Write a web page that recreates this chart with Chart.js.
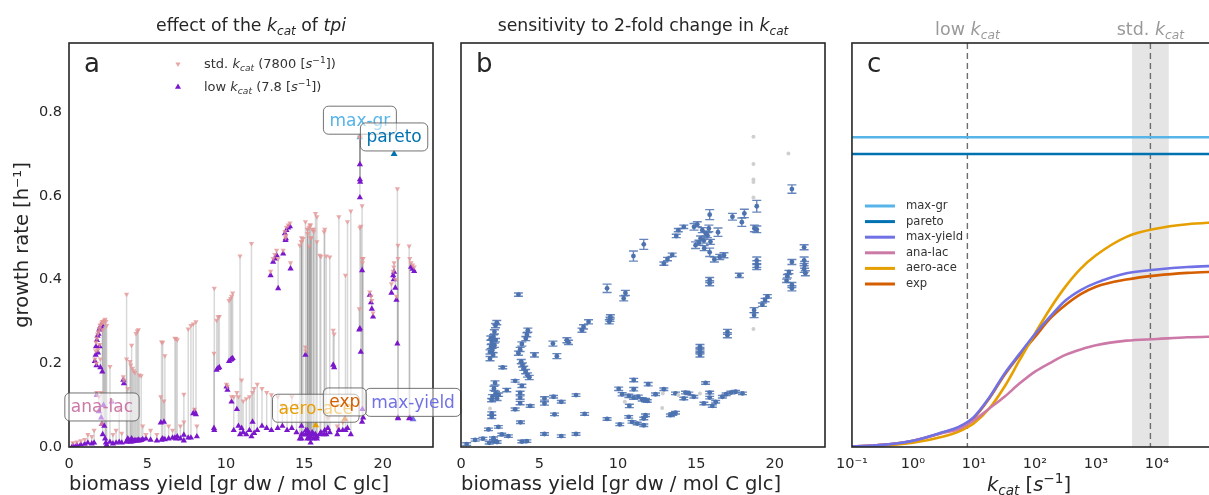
<!DOCTYPE html>
<html>
<head>
<meta charset="utf-8">
<script src="https://cdn.jsdelivr.net/npm/chart.js@4.4.1/dist/chart.umd.min.js"></script>
<style>
  html, body { margin: 0; padding: 0; background: #fff; width: 1209px; height: 495px; overflow: hidden; }
  canvas { position: absolute; top: 0; }
</style>
</head>
<body>
<canvas id="chartA" width="470" height="495" style="left:0"></canvas>
<canvas id="chartB" width="390" height="495" style="left:440px"></canvas>
<canvas id="chartC" width="403" height="495" style="left:827px"></canvas>
<script>
// --- panel a: [biomass yield, growth rate std kcat, growth rate low kcat]
const tpiPairs = [
  [0.25,0.010,0.004],[0.5,0.012,0.005],[0.75,0.015,0.006],[1.0,0.018,0.007],[1.2,0.03,0.01],[1.45,0.025,0.008],[1.6,0.04,0.01],
  [1.65,0.21,0.205],[1.7,0.23,0.22],[1.72,0.25,0.24],[1.78,0.26,0.255],[1.82,0.27,0.265],[1.88,0.275,0.27],[1.93,0.283,0.28],
  [1.98,0.29,0.285],[2.03,0.292,0.288],[2.08,0.296,0.292],[1.75,0.2,0.195],[1.85,0.232,0.225],[1.95,0.245,0.24],[2.0,0.21,0.19],
  [2.12,0.3,0.18],[2.2,0.3,0.1],[2.25,0.302,0.05],[2.3,0.305,0.02],[2.35,0.3,0.01],[2.15,0.28,0.03],[2.05,0.13,0.07],[1.9,0.12,0.085],
  [2.4,0.29,0.005],[1.76,0.13,0.124],[2.72,0.11,0.108],[2.61,0.192,0.012],[2.8,0.03,0.008],[3.0,0.04,0.01],[3.2,0.09,0.012],
  [3.36,0.033,0.01],[3.46,0.168,0.16],[3.5,0.16,0.152],
  [3.67,0.365,0.012],[3.67,0.21,0.014],[3.75,0.14,0.02],[3.89,0.204,0.015],[3.93,0.196,0.012],[3.99,0.243,0.02],[4.05,0.188,0.013],
  [4.12,0.182,0.014],[4.2,0.178,0.016],[4.27,0.271,0.015],[4.35,0.277,0.015],[4.42,0.28,0.017],[4.48,0.172,0.015],[4.6,0.17,0.016],
  [4.7,0.05,0.018],[4.9,0.03,0.02],[5.2,0.04,0.017],
  [5.6,0.03,0.015],[5.85,0.12,0.058],[5.9,0.251,0.017],[5.97,0.25,0.02],[6.05,0.11,0.06],[6.11,0.218,0.018],[6.35,0.05,0.02],
  [6.6,0.04,0.022],[6.75,0.26,0.022],[6.82,0.259,0.02],[6.9,0.256,0.025],[7.1,0.05,0.02],
  [7.32,0.126,0.029],[7.32,0.06,0.015],[7.6,0.282,0.022],[7.77,0.29,0.022],[7.92,0.294,0.08],[8.0,0.09,0.085],[8.09,0.299,0.078],[8.15,0.05,0.025],
  [9.24,0.224,0.045],[9.26,0.379,0.04],[9.41,0.303,0.184],[9.5,0.311,0.188],[9.58,0.312,0.19],[10.04,0.15,0.144],[10.1,0.145,0.136],
  [10.2,0.35,0.205],[10.3,0.355,0.208],[10.36,0.36,0.21],[10.43,0.368,0.212],[10.36,0.12,0.108],[10.5,0.12,0.04],
  [10.7,0.13,0.09],[10.8,0.12,0.05],[10.9,0.456,0.03],[11.0,0.16,0.045],[11.1,0.11,0.035],[11.3,0.115,0.03],[11.5,0.12,0.04],
  [11.63,0.486,0.025],[11.7,0.13,0.06],[11.8,0.14,0.033],[12.0,0.15,0.04],[12.3,0.14,0.05],[12.6,0.13,0.045],[12.9,0.125,0.04],[13.3,0.12,0.045],
  [12.85,0.42,0.41],[13.01,0.45,0.442],[13.12,0.46,0.45],[13.23,0.47,0.458],[13.33,0.45,0.379],[13.65,0.47,0.462],[13.76,0.515,0.51],
  [13.8,0.5,0.494],[13.82,0.505,0.498],[13.86,0.525,0.518],[13.97,0.53,0.524],[14.08,0.535,0.527],[14.12,0.44,0.426],
  [13.6,0.1,0.05],[13.9,0.09,0.04],[14.2,0.12,0.045],[14.5,0.1,0.035],
  [14.71,0.482,0.02],[14.82,0.49,0.05],[14.82,0.5,0.03],[14.82,0.49,0.02],[14.92,0.498,0.03],[15.07,0.538,0.03],[15.07,0.239,0.22],
  [15.1,0.23,0.04],[15.2,0.52,0.04],[15.2,0.51,0.03],[15.2,0.52,0.02],[15.25,0.1,0.035],[15.3,0.525,0.03],[15.3,0.48,0.025],
  [15.35,0.53,0.02],[15.4,0.53,0.025],[15.4,0.5,0.01],[15.45,0.5,0.03],[15.5,0.52,0.035],[15.6,0.515,0.02],[15.6,0.52,0.03],
  [15.71,0.558,0.03],[15.8,0.49,0.025],[15.8,0.55,0.02],[15.99,0.458,0.03],[16.05,0.455,0.035],[16.26,0.514,0.03],[16.3,0.52,0.04],
  [16.4,0.456,0.03],[16.62,0.454,0.035],[16.5,0.07,0.045],
  [16.84,0.279,0.196],[16.9,0.27,0.19],[17.1,0.05,0.03],[17.2,0.55,0.04],[17.45,0.06,0.04],[17.62,0.41,0.04],[17.75,0.538,0.045],[17.96,0.564,0.03],
  [18.54,0.74,0.675],[18.54,0.74,0.639],[18.56,0.74,0.633],[18.54,0.74,0.596],[18.68,0.576,0.422],[18.68,0.45,0.06],[18.54,0.524,0.283],[18.6,0.527,0.227],
  [18.75,0.45,0.07],[18.7,0.44,0.09],[18.5,0.33,0.28],[19.17,0.37,0.363],[19.25,0.36,0.345],[19.3,0.35,0.33],[19.38,0.32,0.311],
  [20.55,0.39,0.368],[20.66,0.42,0.41],[20.7,0.43,0.40],[20.72,0.44,0.418],[20.8,0.40,0.38],[20.87,0.36,0.351],[20.93,0.617,0.247],
  [20.97,0.482,0.068],[20.97,0.45,0.07],[21.68,0.48,0.068],[21.72,0.45,0.07],[21.8,0.44,0.43],[21.9,0.435,0.425],[22.0,0.43,0.42]
];

// reference strategies (low kcat)
const refLabels = ['max-gr', 'pareto', 'max-yield', 'ana-lac', 'aero-ace', 'exp'];
const refColors = ['#56B4E9', '#0072B2', '#7171e6', '#CC79A7', '#E69F00', '#D55E00'];
const refYield = [18.54, 20.72, 21.93, 2.1, 15.73, 17.58];
const refLowRate = [0.74, 0.70, 0.066, 0.055, 0.052, 0.067];

// --- panel b: [biomass yield, growth rate, error]
const sensPoints = [
  [21.09,0.616,0.01],[18.85,0.575,0.014],[18.7,0.522,0.008],[18.85,0.52,0.008],[18.06,0.558,0.01],[17.9,0.537,0.01],[17.3,0.55,0.008],
  [15.85,0.555,0.012],[16.38,0.513,0.01],
  [14.85,0.526,0.008],[15.06,0.532,0.006],[15.38,0.518,0.006],[15.6,0.51,0.006],[15.8,0.522,0.008],[15.27,0.498,0.006],[14.95,0.482,0.008],
  [15.48,0.493,0.006],[15.7,0.506,0.006],[15.16,0.488,0.006],[15.5,0.475,0.006],[15.9,0.49,0.006],
  [14.2,0.526,0.004],[13.85,0.518,0.004],[13.72,0.504,0.004],[11.65,0.484,0.012],[10.99,0.456,0.012],
  [13.46,0.459,0.004],[13.16,0.449,0.004],[12.93,0.438,0.004],
  [15.85,0.465,0.01],[16.15,0.448,0.006],[16.49,0.454,0.006],[16.76,0.458,0.006],[15.85,0.399,0.006],[15.85,0.391,0.006],[17.74,0.41,0.005],
  [18.85,0.446,0.008],[18.85,0.437,0.008],[18.85,0.43,0.006],
  [21.87,0.477,0.006],[21.87,0.446,0.008],[21.9,0.435,0.008],[21.87,0.425,0.008],[21.95,0.415,0.006],
  [21.09,0.442,0.006],[20.9,0.418,0.004],[20.8,0.408,0.004],[20.75,0.397,0.004],[21.09,0.387,0.006],[21.09,0.379,0.006],
  [9.31,0.379,0.01],[10.48,0.368,0.006],[10.37,0.355,0.006],[3.66,0.364,0.004],
  [19.53,0.36,0.004],[19.38,0.351,0.004],[19.21,0.34,0.004],[18.68,0.327,0.006],[18.68,0.315,0.006],
  [16.98,0.275,0.006],[16.98,0.267,0.006],[15.23,0.24,0.005],[15.23,0.233,0.005],[15.23,0.227,0.005],[15.23,0.22,0.005],
  [2.28,0.297,0.005],[2.2,0.29,0.005],[2.13,0.275,0.005],[2.07,0.263,0.005],[1.96,0.251,0.005],[1.92,0.24,0.005],[1.85,0.227,0.005],
  [1.85,0.211,0.005],[2.13,0.243,0.005],[1.99,0.231,0.005],[2.05,0.22,0.005],[1.9,0.26,0.005],[2.2,0.255,0.004],[2.66,0.19,0.003],
  [4.26,0.279,0.005],[4.2,0.268,0.005],[4.13,0.259,0.005],[3.88,0.246,0.005],[3.77,0.233,0.005],[3.66,0.224,0.005],[4.68,0.22,0.005],
  [3.84,0.204,0.005],[3.92,0.196,0.005],[4.0,0.188,0.005],[4.12,0.18,0.005],[4.24,0.172,0.005],[4.35,0.166,0.005],
  [5.86,0.247,0.006],[6.11,0.217,0.006],[6.75,0.255,0.006],[6.85,0.25,0.005],[7.81,0.287,0.005],[7.71,0.279,0.005],[8.13,0.299,0.005],
  [9.52,0.311,0.005],[9.5,0.305,0.005],[9.45,0.299,0.005],[3.45,0.158,0.003],[2.92,0.136,0.004],[3.88,0.146,0.004],
  [2.17,0.153,0.005],[2.1,0.14,0.005],[2.2,0.128,0.005],[2.0,0.12,0.005],[2.3,0.116,0.005],[1.95,0.112,0.004],[2.4,0.125,0.004],
  [3.77,0.129,0.004],[3.77,0.118,0.004],[3.77,0.105,0.004],[4.41,0.098,0.003],[5.32,0.116,0.004],[5.32,0.104,0.004],[5.9,0.12,0.003],
  [6.39,0.108,0.003],[7.33,0.124,0.003],[3.45,0.09,0.003],[1.96,0.08,0.004],[1.96,0.072,0.004],[3.79,0.059,0.003],[5.96,0.078,0.003],
  [7.88,0.079,0.003],[9.31,0.067,0.003],[10.12,0.054,0.003],[1.75,0.042,0.003],[2.38,0.048,0.003],[2.07,0.021,0.003],[2.07,0.014,0.003],
  [1.8,0.01,0.003],[2.3,0.012,0.003],[0.9,0.017,0.003],[0.36,0.007,0.003],[3.02,0.026,0.003],[3.88,0.013,0.003],[4.2,0.014,0.003],
  [5.32,0.031,0.003],[6.39,0.026,0.003],[7.33,0.031,0.003],[2.6,0.03,0.003],[1.4,0.02,0.003],
  [11.01,0.16,0.004],[11.93,0.15,0.004],[10.05,0.139,0.004],[11.01,0.138,0.004],[10.27,0.126,0.004],[10.7,0.122,0.004],[11.0,0.118,0.004],
  [11.3,0.12,0.004],[11.55,0.114,0.004],[11.76,0.112,0.004],[10.73,0.098,0.004],[11.87,0.11,0.003],[12.4,0.126,0.003],[12.93,0.138,0.003],
  [13.67,0.128,0.003],[14.31,0.13,0.003],[14.52,0.128,0.003],[14.2,0.116,0.003],[14.84,0.12,0.003],[15.59,0.153,0.003],[15.85,0.13,0.003],
  [15.85,0.118,0.003],[15.48,0.104,0.003],[16.02,0.098,0.003],[16.23,0.108,0.003],[16.66,0.12,0.003],[16.9,0.126,0.003],[17.2,0.13,0.003],
  [17.5,0.132,0.003],[17.94,0.128,0.003],[13.35,0.076,0.003],[13.67,0.082,0.003],[13.5,0.079,0.003],[10.69,0.072,0.003],[11.76,0.076,0.003],
  [11.65,0.068,0.003],[10.9,0.06,0.003],[11.23,0.056,0.003],[11.65,0.052,0.003]
];
const sensGray = [
  [18.64,0.741],[18.64,0.676],[18.64,0.639],[18.64,0.633],[18.64,0.596],[20.87,0.701],[18.64,0.282],
  [1.85,0.092],[10.44,0.108],[12.82,0.093],[12.86,0.128],[13.85,0.124],[15.23,0.128]
];

// --- panel c: growth rate vs kcat
const kcatGrid = [0.1, 0.316, 1, 3.16, 5.62, 10, 17.8, 31.6, 56.2, 100, 178, 316, 562, 1000, 3160, 10000, 31600, 100000];
const curveMaxGr    = [0.74, 0.74, 0.74, 0.74, 0.74, 0.74, 0.74, 0.74, 0.74, 0.74, 0.74, 0.74, 0.74, 0.74, 0.74, 0.74, 0.74, 0.74];
const curvePareto   = [0.70, 0.70, 0.70, 0.70, 0.70, 0.70, 0.70, 0.70, 0.70, 0.70, 0.70, 0.70, 0.70, 0.70, 0.70, 0.70, 0.70, 0.70];
const curveMaxYield = [0.001, 0.005, 0.015, 0.036, 0.048, 0.072, 0.118, 0.175, 0.223, 0.27, 0.312, 0.35, 0.375, 0.392, 0.415, 0.424, 0.43, 0.433];
const curveAnaLac   = [0.001, 0.005, 0.015, 0.034, 0.043, 0.064, 0.092, 0.12, 0.152, 0.18, 0.201, 0.22, 0.233, 0.243, 0.254, 0.258, 0.262, 0.264];
const curveAeroAce  = [0.001, 0.003, 0.01, 0.025, 0.037, 0.057, 0.092, 0.144, 0.208, 0.271, 0.331, 0.383, 0.426, 0.458, 0.502, 0.522, 0.532, 0.537];
const curveExp      = [0.001, 0.005, 0.015, 0.035, 0.047, 0.07, 0.116, 0.172, 0.22, 0.263, 0.307, 0.339, 0.365, 0.383, 0.40, 0.41, 0.416, 0.419];
const kcatTicks = [0.1, 1, 10, 100, 1000, 10000];
const kcatTickLabels = ['10⁻¹', '10⁰', '10¹', '10²', '10³', '10⁴'];
const kcatLow = 7.8;
const kcatStd = 7800;
const kcatBand = [3900, 15600];

const FONT = '"DejaVu Sans"';
const TXT = '#262626';

// text with italic / subscript / superscript pieces
function drawRich(ctx, parts, x, y, size, color, align) {
  ctx.save();
  const segs = parts.map(([t, s]) => {
    const small = s === 'is' || s === 'p';
    const font = (s && s[0] === 'i' ? 'italic ' : '') + (small ? size * 0.7 : size) + 'px ' + FONT;
    ctx.font = font;
    return { t, font, w: ctx.measureText(t).width, dy: s === 'is' ? size * 0.22 : s === 'p' ? -size * 0.4 : 0 };
  });
  const total = segs.reduce((a, s) => a + s.w, 0);
  let cx = align === 'center' ? x - total / 2 : x;
  ctx.fillStyle = color;
  ctx.textAlign = 'left';
  ctx.textBaseline = 'alphabetic';
  segs.forEach(s => { ctx.font = s.font; ctx.fillText(s.t, cx, y + s.dy); cx += s.w; });
  ctx.restore();
}

function framePlugin(letter, title) {
  return {
    id: 'frame' + letter,
    afterDraw(chart) {
      const { ctx, chartArea: a } = chart;
      ctx.save();
      ctx.strokeStyle = TXT;
      ctx.lineWidth = 1.6;
      ctx.strokeRect(a.left, a.top, a.right - a.left, a.bottom - a.top);
      ctx.fillStyle = TXT;
      ctx.font = '26px ' + FONT;
      ctx.textAlign = 'left';
      ctx.textBaseline = 'alphabetic';
      ctx.fillText(letter, a.left + 15, a.top + 29);
      ctx.restore();
      if (title) drawRich(ctx, title, (a.left + a.right) / 2, 31, 17.3, TXT, 'center');
    }
  };
}

function linAxes(showY) {
  const tick = { color: TXT, font: { family: FONT, size: 14.5 } };
  const y = { type: 'linear', min: 0, max: 0.965, display: false };
  if (showY) {
    Object.assign(y, {
      display: true,
      grid: { display: false, drawTicks: false }, border: { display: false },
      ticks: Object.assign({ stepSize: 0.2, includeBounds: false, padding: 7, callback: v => v.toFixed(1) }, tick),
      title: { display: true, text: 'growth rate [h⁻¹]', color: TXT, align: 'center',
               font: { family: FONT, size: 19.5, lineHeight: 1 }, padding: { top: 13, bottom: 0 } },
      afterFit: s => { s.width = 69; }
    });
  }
  return {
    x: {
      type: 'linear', min: 0, max: 23.2,
      grid: { display: false, drawTicks: false }, border: { display: false },
      ticks: Object.assign({ stepSize: 5, includeBounds: false, padding: 9 }, tick),
      title: { display: true, text: 'biomass yield [gr dw / mol C glc]', color: TXT, align: 'start',
               font: { family: FONT, size: 19.5, lineHeight: 1 }, padding: { top: 0, bottom: 0 } },
      afterFit: s => { s.height = 48; }
    },
    y
  };
}

const baseOpts = {
  responsive: false, animation: false, devicePixelRatio: 1,
  plugins: { legend: { display: false }, tooltip: { enabled: false } }
};

// ---------- panel a ----------
const pairLines = {
  id: 'pairLines',
  beforeDatasetsDraw(chart) {
    const { ctx, chartArea: a, scales: { x, y } } = chart;
    ctx.save();
    ctx.beginPath(); ctx.rect(a.left, a.top, a.right - a.left, a.bottom - a.top); ctx.clip();
    ctx.strokeStyle = 'rgba(40,40,40,0.18)';
    ctx.lineWidth = 1.5;
    tpiPairs.forEach(([yl, s, l]) => {
      const px = x.getPixelForValue(yl);
      ctx.beginPath();
      ctx.moveTo(px, y.getPixelForValue(s));
      ctx.lineTo(px, y.getPixelForValue(l));
      ctx.stroke();
    });
    ctx.restore();
  }
};

const refBoxes = {
  id: 'refBoxes',
  afterDraw(chart) {
    const { ctx, scales: { x, y } } = chart;
    ctx.save();
    ctx.font = '17px ' + FONT;
    refLabels.forEach((lab, i) => {
      const px = x.getPixelForValue(refYield[i]);
      const py = y.getPixelForValue(refLowRate[i]) - 17;
      const w = ctx.measureText(lab).width + 12, h = 28;
      ctx.beginPath();
      ctx.roundRect(px - w / 2, py - h / 2, w, h, 5);
      ctx.fillStyle = 'rgba(255,255,255,0.55)';
      ctx.fill();
      ctx.strokeStyle = 'rgba(90,90,90,0.85)';
      ctx.lineWidth = 1;
      ctx.stroke();
      ctx.fillStyle = refColors[i];
      ctx.textAlign = 'center';
      ctx.textBaseline = 'middle';
      ctx.fillText(lab, px, py + 1);
    });
    // legend
    const tri = (cx, cy, r, down, col) => {
      ctx.beginPath();
      const d = down ? -1 : 1;
      ctx.moveTo(cx, cy - d * r);
      ctx.lineTo(cx - r * 0.87, cy + d * r * 0.5);
      ctx.lineTo(cx + r * 0.87, cy + d * r * 0.5);
      ctx.closePath();
      ctx.fillStyle = col;
      ctx.fill();
    };
    tri(178, 64, 3, true, 'rgba(228,150,150,0.85)');
    tri(178, 87, 3.5, false, '#7a17cb');
    ctx.restore();
    drawRich(ctx, [['std. ', ''], ['k', 'i'], ['cat', 'is'], [' (7800 [', ''], ['s', 'i'], ['−1', 'p'], ['])', '']], 204, 68, 13, '#333', 'left');
    drawRich(ctx, [['low ', ''], ['k', 'i'], ['cat', 'is'], [' (7.8 [', ''], ['s', 'i'], ['−1', 'p'], ['])', '']], 204, 91, 13, '#333', 'left');
  }
};

new Chart(document.getElementById('chartA'), {
  type: 'scatter',
  data: {
    datasets: [
      { label: 'std. kcat', data: tpiPairs.map(p => ({ x: p[0], y: p[1] })), pointStyle: 'triangle', rotation: 180,
        pointRadius: 3, backgroundColor: 'rgba(228,150,150,0.8)', borderWidth: 0 },
      { label: 'low kcat', data: tpiPairs.map(p => ({ x: p[0], y: p[2] })), pointStyle: 'triangle',
        pointRadius: 3.6, backgroundColor: '#7a17cb', borderWidth: 0 },
      { label: 'references', data: refYield.map((v, i) => ({ x: v, y: refLowRate[i] })), pointStyle: 'triangle',
        pointRadius: 4, backgroundColor: refColors, borderWidth: 0 }
    ]
  },
  options: Object.assign({}, baseOpts, {
    layout: { padding: { left: 0, right: 37, top: 43, bottom: 0 } },
    scales: linAxes(true)
  }),
  plugins: [pairLines, framePlugin('a', [['effect of the ', ''], ['k', 'i'], ['cat', 'is'], [' of ', ''], ['tpi', 'i']]), refBoxes]
});

// ---------- panel b ----------
const errBars = {
  id: 'errBars',
  beforeDatasetDraw(chart, args) {
    if (args.index !== 1) return;
    const { ctx, scales: { x, y } } = chart;
    ctx.save();
    ctx.strokeStyle = 'rgba(76,114,176,0.85)';
    ctx.lineWidth = 1.4;
    sensPoints.forEach(([px, py, e]) => {
      const cx = x.getPixelForValue(px);
      const y0 = y.getPixelForValue(py - e), y1 = y.getPixelForValue(py + e);
      ctx.beginPath();
      ctx.moveTo(cx, y0); ctx.lineTo(cx, y1);
      ctx.moveTo(cx - 4.5, y0); ctx.lineTo(cx + 4.5, y0);
      ctx.moveTo(cx - 4.5, y1); ctx.lineTo(cx + 4.5, y1);
      ctx.stroke();
    });
    ctx.restore();
  }
};

new Chart(document.getElementById('chartB'), {
  type: 'scatter',
  data: {
    datasets: [
      { label: 'std', data: sensGray.map(p => ({ x: p[0], y: p[1] })), pointRadius: 2, backgroundColor: '#cfcfcf', borderWidth: 0 },
      { label: '2-fold', data: sensPoints.map(p => ({ x: p[0], y: p[1] })), pointRadius: 2.4, backgroundColor: '#4c72b0', borderWidth: 0 }
    ]
  },
  options: Object.assign({}, baseOpts, {
    layout: { padding: { left: 21, right: 5, top: 43, bottom: 0 } },
    scales: linAxes(false)
  }),
  plugins: [errBars, framePlugin('b', [['sensitivity to 2-fold change in ', ''], ['k', 'i'], ['cat', 'is']])]
});

// ---------- panel c ----------
const kcatMarks = {
  id: 'kcatMarks',
  beforeDatasetsDraw(chart) {
    const { ctx, chartArea: a, scales: { x } } = chart;
    ctx.save();
    ctx.fillStyle = '#e5e5e5';
    const b0 = x.getPixelForValue(kcatBand[0]), b1 = x.getPixelForValue(kcatBand[1]);
    ctx.fillRect(b0, a.top, b1 - b0, a.bottom - a.top);
    ctx.strokeStyle = '#6e6e6e';
    ctx.lineWidth = 1.4;
    ctx.setLineDash([6, 4]);
    [kcatLow, kcatStd].forEach(v => {
      const px = x.getPixelForValue(v);
      ctx.beginPath(); ctx.moveTo(px, a.top); ctx.lineTo(px, a.bottom); ctx.stroke();
    });
    ctx.restore();
  },
  afterDraw(chart) {
    const { ctx, chartArea: a, scales: { x } } = chart;
    drawRich(ctx, [['low ', ''], ['k', 'i'], ['cat', 'is']], x.getPixelForValue(kcatLow), 35, 17.5, '#999', 'center');
    drawRich(ctx, [['std. ', ''], ['k', 'i'], ['cat', 'is']], x.getPixelForValue(kcatStd), 35, 17.5, '#999', 'center');
    drawRich(ctx, [['k', 'i'], ['cat', 'is'], [' [', ''], ['s', 'i'], ['−1', 'p'], [']', '']], (a.left + a.right) / 2 - 6, 491, 19.5, TXT, 'center');
    // legend
    ctx.save();
    chart.data.datasets.forEach((ds, i) => {
      const yy = 206 + i * 15.6;
      ctx.strokeStyle = ds.borderColor;
      ctx.lineWidth = 3;
      ctx.beginPath(); ctx.moveTo(a.left + 13, yy); ctx.lineTo(a.left + 43, yy); ctx.stroke();
      ctx.fillStyle = '#333';
      ctx.font = '11.6px ' + FONT;
      ctx.textBaseline = 'middle';
      ctx.fillText(ds.label, a.left + 54, yy);
    });
    ctx.restore();
  }
};

const curveSets = [
  ['max-gr', curveMaxGr, '#56B4E9'],
  ['pareto', curvePareto, '#0072B2'],
  ['max-yield', curveMaxYield, '#7171e6'],
  ['ana-lac', curveAnaLac, '#CC79A7'],
  ['aero-ace', curveAeroAce, '#E69F00'],
  ['exp', curveExp, '#D55E00']
];

new Chart(document.getElementById('chartC'), {
  type: 'scatter',
  data: {
    datasets: curveSets.map(([lab, vals, col]) => ({
      label: lab, data: kcatGrid.map((k, i) => ({ x: k, y: vals[i] })),
      showLine: true, pointRadius: 0, borderColor: col, backgroundColor: col, borderWidth: 2.6,
      cubicInterpolationMode: 'monotone'
    }))
  },
  options: Object.assign({}, baseOpts, {
    layout: { padding: { left: 19, right: 12, top: 43, bottom: 0 } },
    scales: {
      x: {
        type: 'logarithmic', min: 0.1, max: 100000,
        grid: { display: false, drawTicks: false }, border: { display: false },
        afterBuildTicks: s => { s.ticks = kcatTicks.map(v => ({ value: v })); },
        ticks: { color: TXT, font: { family: FONT, size: 14.5 }, padding: 9, autoSkip: false, maxRotation: 0,
                 callback: (v) => kcatTickLabels[kcatTicks.indexOf(v)] },
        afterFit: s => { s.height = 48; }
      },
      y: { type: 'linear', min: 0, max: 0.965, display: false }
    }
  }),
  plugins: [kcatMarks, framePlugin('c', null)]
});
</script>
</body>
</html>
